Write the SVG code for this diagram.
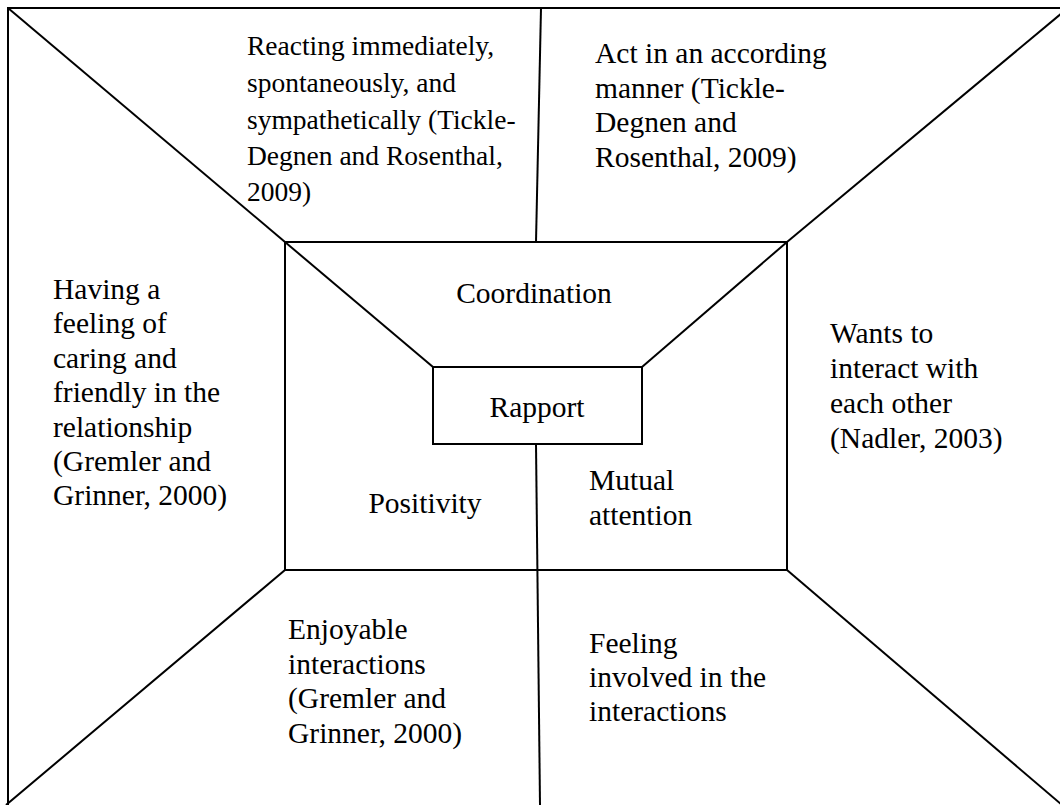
<svg xmlns="http://www.w3.org/2000/svg" width="1060" height="805" viewBox="0 0 1060 805">
<style>
.ln{stroke:#000;stroke-width:2;fill:none}
.box{stroke:#000;stroke-width:2;fill:#fff}
text{font-family:"Liberation Serif","Times New Roman",serif;font-size:29.5px;fill:#000}
.sm{font-size:27.5px}
.c{text-anchor:middle}
</style>
<rect width="1060" height="805" fill="#fff"/>
<g id="connectors">
<rect class="ln" x="8" y="8" width="1070" height="810"/>
<line class="ln" x1="8" y1="8" x2="285" y2="242"/>
<line class="ln" x1="1062" y1="13" x2="787" y2="242"/>
<line class="ln" x1="285" y1="570" x2="6" y2="805"/>
<line class="ln" x1="787" y1="570" x2="1062" y2="805"/>
<line class="ln" x1="541" y1="8" x2="536" y2="242"/>
<line class="ln" x1="536" y1="444" x2="540" y2="805"/>
<line class="ln" x1="285" y1="242" x2="433" y2="367"/>
<line class="ln" x1="787" y1="242" x2="642" y2="367"/>
</g>
<g id="outer-frame">
<rect class="ln" x="285" y="242" width="502" height="328"/>
</g>
<g id="rapport">
<rect class="box" x="433" y="367" width="209" height="77"/>
<text class="c" x="537" y="417">Rapport</text>
</g>
<g id="coordination">
<text class="c" x="534" y="303">Coordination</text>
</g>
<g id="positivity">
<text class="c" x="425" y="513">Positivity</text>
</g>
<g id="mutual-attention">
<text x="589" y="490">Mutual</text>
<text x="589" y="525">attention</text>
</g>
<g id="reacting">
<text class="sm" x="247" y="55">Reacting immediately,</text>
<text class="sm" x="247" y="92">spontaneously, and</text>
<text class="sm" x="247" y="129">sympathetically (Tickle-</text>
<text class="sm" x="247" y="165">Degnen and Rosenthal,</text>
<text class="sm" x="247" y="201">2009)</text>
</g>
<g id="act">
<text x="595" y="63">Act in an according</text>
<text x="595" y="98">manner (Tickle-</text>
<text x="595" y="132">Degnen and</text>
<text x="595" y="167">Rosenthal, 2009)</text>
</g>
<g id="caring">
<text x="53" y="299">Having a</text>
<text x="53" y="333">feeling of</text>
<text x="53" y="368">caring and</text>
<text x="53" y="402">friendly in the</text>
<text x="53" y="437">relationship</text>
<text x="53" y="471">(Gremler and</text>
<text x="53" y="505">Grinner, 2000)</text>
</g>
<g id="wants">
<text x="830" y="343">Wants to</text>
<text x="830" y="378">interact with</text>
<text x="830" y="413">each other</text>
<text x="830" y="448">(Nadler, 2003)</text>
</g>
<g id="enjoyable">
<text x="288" y="639">Enjoyable</text>
<text x="288" y="674">interactions</text>
<text x="288" y="708">(Gremler and</text>
<text x="288" y="743">Grinner, 2000)</text>
</g>
<g id="feeling">
<text x="589" y="653">Feeling</text>
<text x="589" y="687">involved in the</text>
<text x="589" y="721">interactions</text>
</g>
</svg>
